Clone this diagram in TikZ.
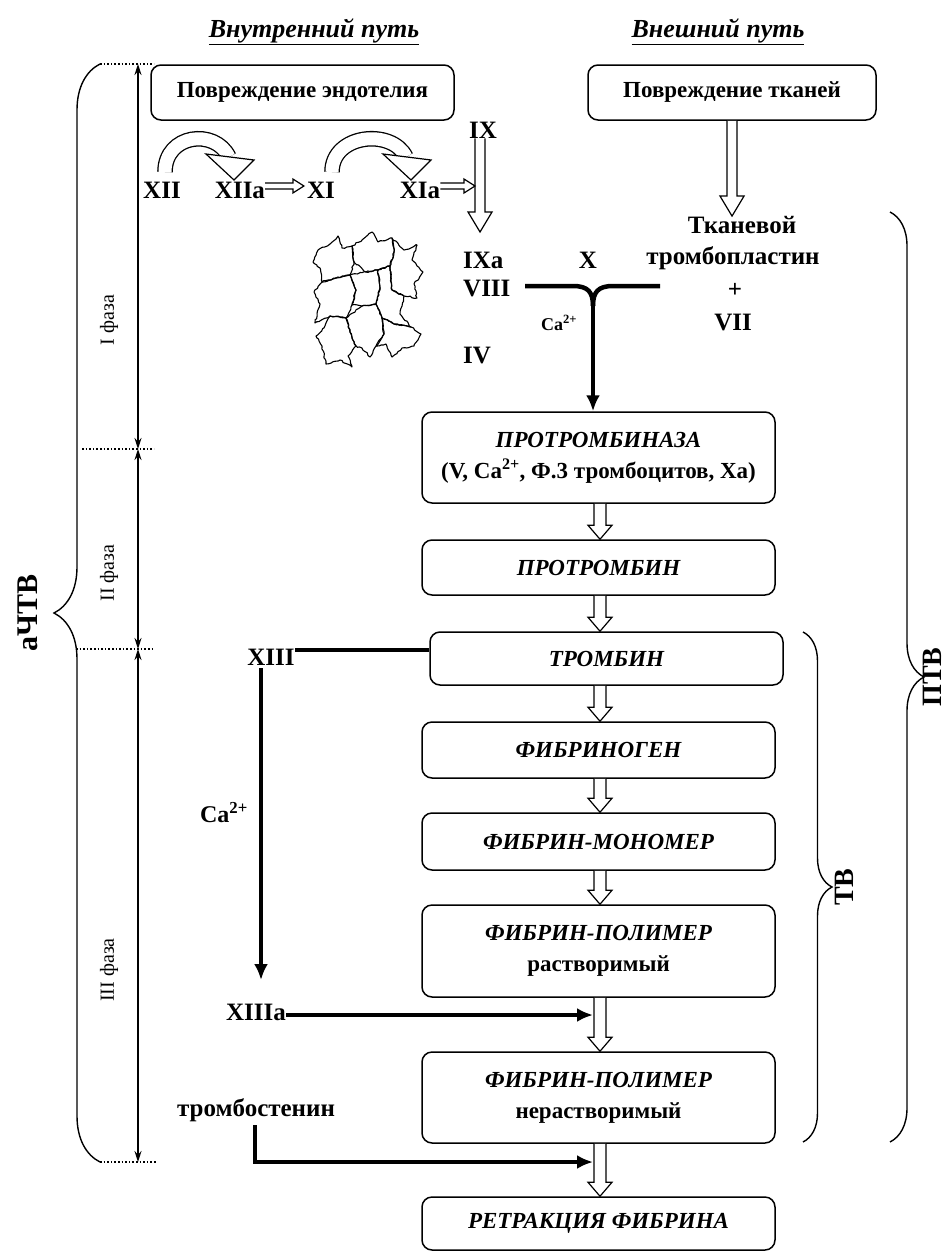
\documentclass[tikz,border=0pt]{standalone}
\usepackage{fontspec}
\setmainfont{Liberation Serif}
\usetikzlibrary{arrows.meta,decorations.pathreplacing,decorations.pathmorphing,calc}
\newcommand{\hdn}[5]{\draw[hollow] let \p1=#1, \p2=#2 in (\x1-#3pt,\y1) -- (\x1-#3pt,\y2+#5pt) -- (\x1-#4pt,\y2+#5pt) -- (\x1,\y2) -- (\x1+#4pt,\y2+#5pt) -- (\x1+#3pt,\y2+#5pt) -- (\x1+#3pt,\y1);}
\newcommand{\hrt}[5]{\draw[hollow] let \p1=#1, \p2=#2 in (\x1,\y1+#3pt) -- (\x2-#5pt,\y1+#3pt) -- (\x2-#5pt,\y1+#4pt) -- (\x2,\y1) -- (\x2-#5pt,\y1-#4pt) -- (\x2-#5pt,\y1-#3pt) -- (\x1,\y1-#3pt);}
\begin{document}
\begin{tikzpicture}[x=1pt,y=-1pt,
 box/.style={draw,line width=1.5pt,rounded corners=10pt,minimum width=353pt,align=center,inner sep=0pt,font=\fontsize{23}{31}\selectfont\bfseries},
 tbox/.style={draw,line width=1.5pt,rounded corners=10pt,align=center,inner sep=0pt,font=\fontsize{23}{26}\selectfont\bfseries},
 fac/.style={inner sep=0pt,font=\fontsize{25}{28}\selectfont\bfseries},
 hd/.style={inner sep=0pt,font=\fontsize{26}{28}\selectfont\bfseries\itshape},
 phase/.style={rotate=90,inner sep=0pt,font=\fontsize{20}{22}\selectfont},
 bigl/.style={rotate=90,inner sep=0pt,font=\fontsize{30}{32}\selectfont\bfseries},
 hollow/.style={draw,line width=1.2pt,fill=white,line join=miter},
 blk/.style={line width=4.5pt},
 barrow/.style={line width=4.5pt,-{Latex[length=16pt,width=14pt]}},
 axl/.style={line width=1.5pt,{Stealth[length=11pt,width=7pt]}-{Stealth[length=11pt,width=7pt]}},
 dotl/.style={line width=1.6pt,dotted},
 brc/.style={decorate,line width=1.4pt},
 cellp/.style={line width=1.1pt,line join=round,decorate,decoration={random steps,segment length=2.5pt,amplitude=0.8pt}},
 curv/.style={line width=1.3pt,double=white,double distance=13pt}
]
\useasboundingbox (0,0) rectangle (946,1253);
\fill[white] (0,0) rectangle (946,1253);

% headings
\node[hd] (h1) at (314,32) {\underline{Внутренний путь}};
\node[hd] (h2) at (718,32) {\underline{Внешний путь}};

% top boxes
\node[tbox,minimum width=303pt,minimum height=55pt] (eb) at (302.5,92.5) {Повреждение эндотелия};
\node[tbox,minimum width=288pt,minimum height=55pt] (tb0) at (732,92.5) {Повреждение тканей};

% factors
\node[fac] (f12) at (162,190) {XII};
\node[fac] (f12a) at (240,190) {XIIa};
\node[fac] (f11) at (321,190) {XI};
\node[fac] (f11a) at (420,190) {XIa};
\node[fac] (f9) at (483,130) {IX};
\node[fac,anchor=west] (f9a) at (463,260) {IXa};
\node[fac] (fx) at (588,260) {X};
\node[fac,anchor=west] (f8) at (463,288) {VIII};
\node[fac,anchor=west] (f4) at (463,355) {IV};
\node[inner sep=0pt,font=\fontsize{18}{20}\selectfont\bfseries] (ca1) at (559,323) {Ca\textsuperscript{2+}};
\node[fac] (tk1) at (742,225) {Тканевой};
\node[fac] (tk2) at (733,258) {тромбопластин};
\node[fac] (tk3) at (735,290) {+};
\node[fac] (tk4) at (733,322) {VII};

% curved hollow arrows
\coordinate (c1a) at (165,172);
\coordinate (c1b) at (229,157);
\draw[curv] (c1a) .. controls (165,134) and (215,128) .. (c1b);
\draw[hollow] (206,154) -- (254,160) -- (234,180) -- cycle;
\coordinate (c2a) at (332,172);
\coordinate (c2b) at (406,157);
\draw[curv] (c2a) .. controls (332,134) and (392,128) .. (c2b);
\draw[hollow] (383,154) -- (431,160) -- (411,180) -- cycle;

% straight hollow arrows (top)
\coordinate (ixe) at (480,232);
\hdn{(f9.south -| ixe)}{(ixe)}{5}{12}{20}
\hrt{($(f12a.east)+(0,-4)$)}{($(f11.west)+(-3,-4)$)}{3}{7}{11}
\coordinate (ixl) at (475,186);
\hrt{($(f11a.east)+(0,-4)$)}{(ixl)}{3}{7}{11}
\hdn{(tb0.south)}{(tk1.north)}{5}{12}{20}

% clot
\pgfmathsetseed{3}
\draw[cellp] (318,250) -- (330,244) -- (338,236) -- (342,248) -- (352,246) -- (354,262) -- (350,275) -- (336,278) -- (322,282) -- (320,268) -- (313,262) -- cycle;
\draw[cellp] (352,246) -- (362,240) -- (372,232) -- (378,242) -- (392,238) -- (394,252) -- (390,266) -- (378,270) -- (366,272) -- (354,262) -- cycle;
\draw[cellp] (392,238) -- (404,250) -- (417,245) -- (412,260) -- (423,272) -- (414,284) -- (417,298) -- (404,296) -- (392,290) -- (390,266) -- (394,252) -- cycle;
\draw[cellp] (322,282) -- (336,278) -- (350,275) -- (356,290) -- (352,305) -- (346,318) -- (330,316) -- (315,323) -- (320,304) -- (314,292) -- cycle;
\draw[cellp] (350,275) -- (366,272) -- (378,270) -- (380,288) -- (376,304) -- (362,306) -- (352,305) -- (356,290) -- cycle;
\draw[cellp] (378,270) -- (390,266) -- (392,290) -- (404,296) -- (400,314) -- (411,327) -- (394,324) -- (382,318) -- (376,304) -- (380,288) -- cycle;
\draw[cellp] (330,316) -- (346,318) -- (350,332) -- (356,346) -- (348,356) -- (352,367) -- (340,360) -- (326,364) -- (322,346) -- (316,336) -- (324,328) -- cycle;
\draw[cellp] (346,318) -- (362,306) -- (376,304) -- (382,318) -- (384,334) -- (376,346) -- (370,357) -- (362,348) -- (356,346) -- (350,332) -- cycle;
\draw[cellp] (382,318) -- (394,324) -- (411,327) -- (421,334) -- (414,346) -- (402,348) -- (392,357) -- (386,344) -- (376,346) -- (384,334) -- cycle;

% Y junction
\coordinate (yl) at (525,286);
\coordinate (yr) at (660,286);
\coordinate (yc) at (593,306);
\draw[blk] (yl) -- (573,286) .. controls (588,286) and (593,292) .. (yc);
\draw[blk] (yr) -- (613,286) .. controls (598,286) and (593,292) .. (yc);

% main boxes
\node[box,minimum height=91pt] (pb) at (598.5,457.5) {{\itshape ПРОТРОМБИНАЗА}\\(V, Ca\textsuperscript{2+}, Ф.3 тромбоцитов, Xa)};
\node[box,minimum height=55pt] (ptn) at (598.5,567.5) {\itshape ПРОТРОМБИН};
\node[box,minimum height=53pt] (trb) at (606.5,658.5) {\itshape ТРОМБИН};
\node[box,minimum height=56pt] (fgn) at (598.5,750) {\itshape ФИБРИНОГЕН};
\node[box,minimum height=57pt] (fmn) at (598.5,841.5) {\itshape ФИБРИН-МОНОМЕР};
\node[box,minimum height=92pt] (fps) at (598.5,951) {{\itshape ФИБРИН-ПОЛИМЕР}\\растворимый};
\node[box,minimum height=91pt] (fpi) at (598.5,1097.5) {{\itshape ФИБРИН-ПОЛИМЕР}\\нерастворимый};
\node[box,minimum height=53pt] (ret) at (598.5,1223.5) {\itshape РЕТРАКЦИЯ ФИБРИНА};

\draw[barrow] (yc) -- (yc |- pb.north);

% hollow arrows between boxes
\coordinate (hx) at (600,0);
\hdn{(pb.south -| hx)}{(ptn.north -| hx)}{6}{12}{14}
\hdn{(ptn.south -| hx)}{(trb.north -| hx)}{6}{12}{14}
\hdn{(trb.south -| hx)}{(fgn.north -| hx)}{6}{12}{14}
\hdn{(fgn.south -| hx)}{(fmn.north -| hx)}{6}{12}{14}
\hdn{(fmn.south -| hx)}{(fps.north -| hx)}{6}{12}{14}
\hdn{(fps.south -| hx)}{(fpi.north -| hx)}{6}{12}{14}
\hdn{(fpi.south -| hx)}{(ret.north -| hx)}{6}{12}{14}

% factor XIII branch
\node[fac] (f13) at (271,657) {XIII};
\coordinate (x13) at ($(f13.east)+(0,-7)$);
\draw[blk] (x13) -- (x13 -| trb.west);
\coordinate (v1) at (261,668);
\coordinate (v2) at (261,980);
\draw[barrow] (v1) -- (v2);
\node[inner sep=0pt,font=\fontsize{24}{26}\selectfont\bfseries] (ca2) at (224,813) {Ca\textsuperscript{2+}};
\node[fac] (f13a) at (256,1012) {XIIIa};
\coordinate (sh) at (593,0);
\coordinate (x13a) at ($(f13a.east)+(0,3)$);
\draw[barrow] (x13a) -- (x13a -| sh);
\node[fac] (trs) at (256,1110) {тромбостенин};
\coordinate (t1) at (255,1125);
\coordinate (t2) at (593,1162);
\draw[barrow] (t1) |- (t2);

% left axis
\coordinate (a0) at (138,64);
\coordinate (a1) at (138,449);
\coordinate (a2) at (138,649);
\coordinate (a3) at (138,1162);
\draw[axl] (a0) -- (a1);
\draw[axl] (a1) -- (a2);
\draw[axl] (a2) -- (a3);
\draw[dotl] (100,64) -- (154,64);
\draw[dotl] (82,449) -- (154,449);
\draw[dotl] (76,649) -- (154,649);
\draw[dotl] (100,1162) -- (156,1162);
\node[phase] (p1) at (109,320) {I фаза};
\node[phase] (p2) at (109,573) {II фаза};
\node[phase] (p3) at (109,970) {III фаза};

% braces
\draw[brc,decoration={brace,amplitude=46pt}] (100,1162) -- (100,64);
\node[bigl] (achtv) at (28,613) {аЧТВ};
\draw[brc,decoration={brace,amplitude=29pt}] (803,632) -- (803,1142);
\node[bigl,font=\fontsize{28}{30}\selectfont\bfseries] (tv) at (844,887) {ТВ};
\draw[brc,decoration={brace,amplitude=34pt}] (890,212) -- (890,1142);
\node[bigl,font=\fontsize{28}{30}\selectfont\bfseries] (ptv) at (932,677) {ПТВ};
\end{tikzpicture}
\end{document}
